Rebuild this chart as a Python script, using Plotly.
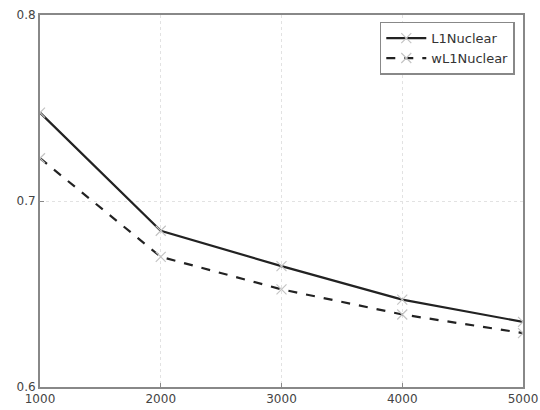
import plotly.graph_objects as go

sizes = [1000, 2000, 3000, 4000, 5000]
l1_nuclear = [0.7475, 0.684, 0.665, 0.647, 0.635]
wl1_nuclear = [0.723, 0.670, 0.6525, 0.639, 0.629]

marker_style = dict(symbol="x-thin-open", size=10, color="#c4c4c4",
                    line=dict(color="#c4c4c4", width=1.2))

fig = go.Figure()
fig.add_trace(go.Scatter(
    x=sizes, y=l1_nuclear, name="L1Nuclear", mode="lines+markers",
    line=dict(color="#222222", width=2.2, dash="solid"),
    marker=marker_style,
))
fig.add_trace(go.Scatter(
    x=sizes, y=wl1_nuclear, name="wL1Nuclear", mode="lines+markers",
    line=dict(color="#222222", width=2.2, dash="dash"),
    marker=marker_style,
))

axis_common = dict(
    showline=True, linecolor="#888888", linewidth=2, mirror=True,
    showgrid=True, gridcolor="#e2e2e2", griddash="dot", gridwidth=1,
    zeroline=False, ticks="inside", ticklen=4, tickcolor="#888888",
    tickfont=dict(family="DejaVu Sans", size=12, color="#444444"),
    automargin=False,
)
fig.update_xaxes(range=[1000, 5000], tickvals=sizes,
                 ticktext=[str(s) for s in sizes], **axis_common)
fig.update_yaxes(range=[0.6, 0.8], tickvals=[0.6, 0.7, 0.8],
                 ticktext=["0.6", "0.7", "0.8"], **axis_common)

fig.update_layout(
    width=540, height=410,
    margin=dict(l=40, r=17, t=15, b=23),
    paper_bgcolor="white", plot_bgcolor="white",
    font=dict(family="DejaVu Sans", size=13, color="#333333"),
    legend=dict(x=0.983, y=0.982, xanchor="right", yanchor="top",
                bgcolor="white", bordercolor="#888888", borderwidth=1.5,
                font=dict(size=13, color="#333333"), tracegroupgap=2,
                itemwidth=40),
    showlegend=True,
)
fig.write_html("out.html")
